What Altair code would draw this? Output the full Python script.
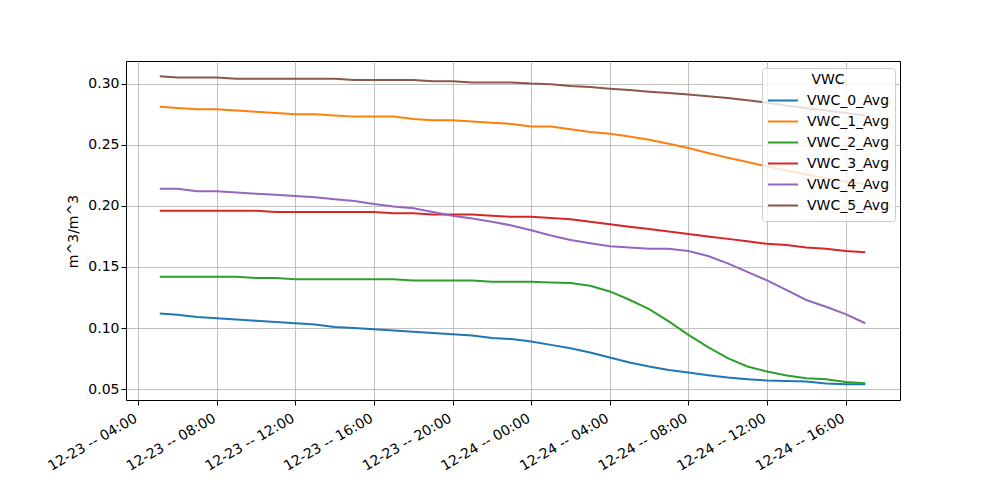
import altair as alt
import pandas as pd

# time grid (hours after 2023-12-23 00:00)
hours = [5.1] + list(range(6, 42))

vwc_0 = [0.112, 0.111, 0.109, 0.108, 0.107, 0.106, 0.105, 0.104, 0.103, 0.101,
         0.100, 0.099, 0.098, 0.097, 0.096, 0.095, 0.094, 0.092, 0.091, 0.089,
         0.0863, 0.0836, 0.080, 0.076, 0.0719, 0.0686, 0.0658, 0.0637, 0.0615, 0.0596,
         0.0582, 0.0571, 0.0568, 0.0563, 0.0546, 0.0541, 0.0541]
vwc_1 = [0.281, 0.280, 0.279, 0.279, 0.278, 0.277, 0.276, 0.275, 0.275, 0.274,
         0.273, 0.273, 0.273, 0.271, 0.270, 0.270, 0.269, 0.268, 0.267, 0.265,
         0.265, 0.2626, 0.2604, 0.259, 0.2568, 0.254, 0.2508, 0.2473, 0.2432, 0.2393,
         0.2358, 0.2322, 0.229, 0.2257, 0.2227, 0.220, 0.218]
vwc_2 = [0.142, 0.142, 0.142, 0.142, 0.142, 0.141, 0.141, 0.140, 0.140, 0.140,
         0.140, 0.140, 0.140, 0.139, 0.139, 0.139, 0.139, 0.138, 0.138, 0.138,
         0.1374, 0.1369, 0.1347, 0.130, 0.1232, 0.1156, 0.1055, 0.0945, 0.0844, 0.0754,
         0.0686, 0.0645, 0.0612, 0.059, 0.0582, 0.056, 0.0549]
vwc_3 = [0.196, 0.196, 0.196, 0.196, 0.196, 0.196, 0.195, 0.195, 0.195, 0.195,
         0.195, 0.195, 0.194, 0.194, 0.193, 0.193, 0.193, 0.192, 0.191, 0.191,
         0.190, 0.189, 0.187, 0.185, 0.183, 0.181, 0.179, 0.177, 0.175, 0.173,
         0.171, 0.169, 0.168, 0.166, 0.165, 0.163, 0.162]
vwc_4 = [0.214, 0.214, 0.212, 0.212, 0.211, 0.210, 0.209, 0.208, 0.207, 0.2055,
         0.204, 0.2016, 0.1995, 0.198, 0.195, 0.192, 0.1896, 0.187, 0.184, 0.180,
         0.1757, 0.172, 0.1694, 0.167, 0.166, 0.165, 0.165, 0.163, 0.159, 0.153,
         0.146, 0.139, 0.131, 0.123, 0.1175, 0.1115, 0.104]
vwc_5 = [0.306, 0.305, 0.305, 0.305, 0.304, 0.304, 0.304, 0.304, 0.304, 0.304,
         0.303, 0.303, 0.303, 0.303, 0.302, 0.302, 0.301, 0.301, 0.301, 0.300,
         0.2995, 0.298, 0.2973, 0.2959, 0.2948, 0.2934, 0.2923, 0.291, 0.2896, 0.2882,
         0.2863, 0.2844, 0.282, 0.280, 0.278, 0.276, 0.274]

series_names = ["VWC_0_Avg", "VWC_1_Avg", "VWC_2_Avg", "VWC_3_Avg", "VWC_4_Avg", "VWC_5_Avg"]
series_vals = [vwc_0, vwc_1, vwc_2, vwc_3, vwc_4, vwc_5]
colors = ["#1f77b4", "#ff7f0e", "#2ca02c", "#d62728", "#9467bd", "#8c564b"]

# x tick positions: (day, hour)
tick_times = [(23, 4), (23, 8), (23, 12), (23, 16), (23, 20),
              (24, 0), (24, 4), (24, 8), (24, 12), (24, 16)]

base = pd.Timestamp("2023-12-23 00:00")
rows = []
for name, vals in zip(series_names, series_vals):
    for h, v in zip(hours, vals):
        t = base + pd.Timedelta(hours=h)
        rows.append({"time": t.strftime("%Y-%m-%dT%H:%M:%S"), "value": v, "series": name})
df = pd.DataFrame(rows)

tick_values = [alt.DateTime(year=2023, month=12, date=d, hours=hh) for d, hh in tick_times]

FONT = "DejaVu Sans"

chart = alt.Chart(df).mark_line(strokeWidth=2, clip=True).encode(
    x=alt.X("time:T",
            scale=alt.Scale(domain=[alt.DateTime(year=2023, month=12, date=23, hours=3, minutes=23),
                                    alt.DateTime(year=2023, month=12, date=24, hours=18, minutes=46)],
                            nice=False),
            axis=alt.Axis(title=None, format="%m-%d -- %H:%M",
                          values=tick_values,
                          labelAngle=330, labelAlign="right", labelBaseline="top",
                          labelPadding=6, labelOffset=-6, labelFlush=False, labelOverlap=False)),
    y=alt.Y("value:Q",
            scale=alt.Scale(domain=[0.0412, 0.3185], nice=False, zero=False),
            axis=alt.Axis(title="m^3/m^3", format=".2f",
                          values=[0.05, 0.10, 0.15, 0.20, 0.25, 0.30],
                          titleX=-53, titleY=170, titleAngle=270,
                          titleAlign="center", titleBaseline="middle")),
    color=alt.Color("series:N",
                    scale=alt.Scale(domain=series_names, range=colors),
                    legend=alt.Legend(title="VWC", orient="none", legendX=636, legendY=7,
                                      symbolType="stroke", symbolSize=900, symbolStrokeWidth=2,
                                      labelFontSize=14, titleFontSize=14, titleFontWeight="normal",
                                      titleAnchor="middle", titleAlign="center",
                                      fillColor="rgba(255,255,255,0.8)", strokeColor="#cccccc",
                                      cornerRadius=3, padding=5, labelOffset=8,
                                      clipHeight=21, rowPadding=0, titlePadding=3)),
).properties(
    width=774, height=339,
    autosize=alt.AutoSizeParams(type="none"),
    padding={"left": 118, "top": 53, "right": 84, "bottom": 80},
).configure_view(
    stroke="black", strokeWidth=1
).configure_axis(
    grid=True, gridColor="#b0b0b0", gridWidth=0.8,
    domain=False, tickColor="black", tickSize=5, tickWidth=1,
    labelFont=FONT, labelFontSize=14, labelColor="black",
    titleFont=FONT, titleFontSize=14, titleFontWeight="normal", titleColor="black",
).configure_legend(
    labelFont=FONT, titleFont=FONT, labelColor="black", titleColor="black"
)

chart.save("out.html", embed_options={"renderer": "svg", "actions": False})
